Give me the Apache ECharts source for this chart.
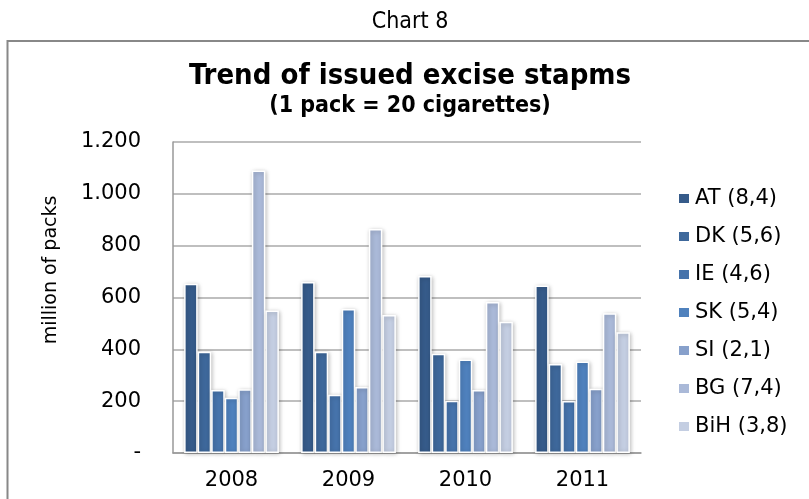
<!DOCTYPE html>
<html>
<head>
<meta charset="utf-8">
<script src="https://cdn.jsdelivr.net/npm/echarts@6/dist/echarts.min.js"></script>
<style>
  html, body { margin: 0; padding: 0; background: #fff; }
  #chart { width: 809px; height: 499px; }
</style>
</head>
<body>
<div id="chart"></div>
<script>
// Issued excise stamps per country and year (million of packs)
const years = ['2008', '2009', '2010', '2011'];
const seriesNames = ['AT (8,4)', 'DK (5,6)', 'IE (4,6)', 'SK (5,4)', 'SI (2,1)', 'BG (7,4)', 'BiH (3,8)'];
const AT  = [653, 660, 683, 646];
const DK  = [391, 391, 383, 343];
const IE  = [243, 225, 202, 201];
const SK  = [213, 556, 361, 353];
const SI  = [246, 255, 243, 248];
const BG  = [1090, 864, 583, 539];
const BiH = [550, 532, 506, 466];
const yTicks = [0, 200, 400, 600, 800, 1000, 1200];

const seriesValues = [AT, DK, IE, SK, SI, BG, BiH];
const colors = ['#365b8a', '#3e689b', '#4673ab', '#4f81bd', '#87a0cb', '#aab9d8', '#c4cee2'];
const font = 'DejaVu Sans, Verdana, sans-serif';
const condensed = 'DejaVu Sans Condensed, DejaVu Sans, sans-serif';

function fmtTick(v) {
  if (v === 0) return '-';
  return String(v).replace(/\B(?=(\d{3})+(?!\d))/g, '.');
}

const chart = echarts.init(document.getElementById('chart'), null, { renderer: 'canvas' });

chart.setOption({
  animation: false,
  color: colors,
  title: [
    { text: 'Chart 8', left: 405, top: 6, textAlign: 'center',
      textStyle: { fontFamily: condensed, fontSize: 23, fontWeight: 'normal', color: '#000' } },
    { text: 'Trend of issued excise stapms', left: 405, top: 57, textAlign: 'center',
      textStyle: { fontFamily: condensed, fontSize: 29, fontWeight: 'bold', color: '#000' } },
    { text: '(1 pack = 20 cigarettes)', left: 405, top: 90, textAlign: 'center',
      textStyle: { fontFamily: condensed, fontSize: 23, fontWeight: 'bold', color: '#000' } }
  ],
  graphic: [
    { type: 'rect', shape: { x: 7.5, y: 41, width: 900, height: 600 },
      style: { fill: 'none', stroke: '#888', lineWidth: 2 }, silent: true }
  ],
  legend: {
    orient: 'vertical',
    left: 672,
    top: 181,
    itemWidth: 12,
    itemHeight: 11,
    itemGap: 13,
    icon: 'rect',
    data: seriesNames,
    textStyle: { fontFamily: font, fontSize: 21, color: '#000', lineHeight: 25 }
  },
  grid: { left: 173, right: 168, top: 142, bottom: 46, containLabel: false },
  xAxis: {
    type: 'category',
    data: years,
    axisLine: { lineStyle: { color: '#999', width: 1.5 } },
    axisTick: { show: false },
    axisLabel: { fontFamily: font, fontSize: 21, color: '#000', margin: 17 }
  },
  yAxis: {
    type: 'value',
    min: yTicks[0],
    max: yTicks[yTicks.length - 1],
    interval: 200,
    name: 'million of packs',
    nameLocation: 'middle',
    nameGap: 112,
    nameTextStyle: { fontFamily: font, fontSize: 19, color: '#000', padding: [0, 0, 0, 55] },
    axisLine: { show: true, lineStyle: { color: '#999', width: 1.5 } },
    axisTick: { show: false },
    splitLine: { lineStyle: { color: '#aaa', width: 1.5 } },
    axisLabel: { fontFamily: font, fontSize: 21, color: '#000', margin: 32, formatter: fmtTick }
  },
  series: seriesNames.map((name, i) => ({
    name: name,
    type: 'bar',
    data: seriesValues[i],
    barGap: '0%',
    barCategoryGap: '19%',
    itemStyle: {
      color: colors[i],
      borderColor: '#fff',
      borderWidth: 1.5,
      shadowColor: 'rgba(0,0,0,0.25)',
      shadowBlur: 4,
      shadowOffsetX: 1,
      shadowOffsetY: 1
    }
  }))
});
</script>
</body>
</html>
